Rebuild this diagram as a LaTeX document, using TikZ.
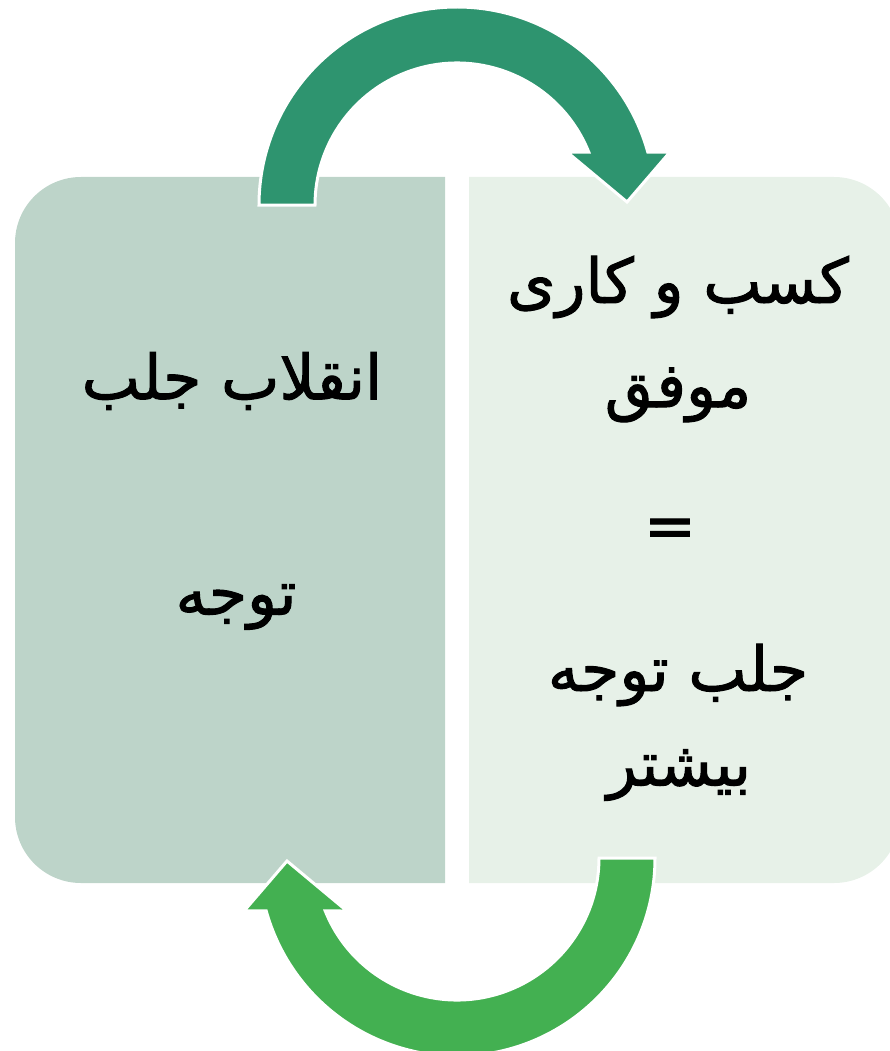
\documentclass[tikz,border=0pt]{standalone}
\usepackage{fontspec}
\usepackage{xcolor}
\usepackage{tikz}
\TeXXeTstate=1
\newfontfamily\arabicfont[Script=Arabic,FakeBold=1.6]{DejaVu Sans}
\definecolor{leftfill}{HTML}{BDD4C9}
\definecolor{rightfill}{HTML}{E7F1E8}
\definecolor{topgreen}{HTML}{2E946F}
\definecolor{botgreen}{HTML}{43B051}
\tikzset{%
  panel/.style = {draw=none},
  bigarrow/.style = {draw=white,line width=3pt,line join=miter},
  fa/.style = {inner sep=0pt,font=\arabicfont\fontsize{62}{68}\selectfont}
}

\begin{document}
\begin{tikzpicture}[x=1pt,y=-1pt]
  \useasboundingbox (0,0) rectangle (889,1051);
  % panels
  \fill[panel,leftfill] (445,177) {[rounded corners=66pt] -- (15,177) -- (15,883)} -- (445,883) -- cycle;
  \fill[panel,rightfill] (469,177) {[rounded corners=66pt] -- (900,177) -- (900,883)} -- (469,883) -- cycle;

  % texts
  \node[fa] (l1) at (232,381) {\beginR انقلاب جلب\endR};
  \node[fa] (l2) at (236,607) {\beginR توجه\endR};
  \node[fa] (r1) at (678,287) {\beginR کسب و کاری\endR};
  \node[fa] (r2) at (678,395) {\beginR موفق\endR};
  \node[fa] (r3) at (670,533) {=};
  \node[fa] (r4) at (678,675) {\beginR جلب توجه\endR};
  \node[fa] (r5) at (679,775) {\beginR بیشتر\endR};

  % arrows
  \coordinate (tc) at (457,205);
  \coordinate (bc) at (457,858);
  \filldraw[bigarrow,fill=topgreen] ([shift={(tc)}]180:198) arc[start angle=180,end angle=344.5,radius=198]
    -- (670,152) -- (627,202) -- (567,152)
    -- ([shift={(tc)}]338.1:142) arc[start angle=338.1,end angle=180,radius=142] -- cycle;
  \filldraw[bigarrow,fill=botgreen] ([shift={(bc)}]0:198) arc[start angle=0,end angle=164.5,radius=198]
    -- (244,911) -- (287,861) -- (347,911)
    -- ([shift={(bc)}]158.1:142) arc[start angle=158.1,end angle=0,radius=142] -- cycle;
\end{tikzpicture}
\end{document}
